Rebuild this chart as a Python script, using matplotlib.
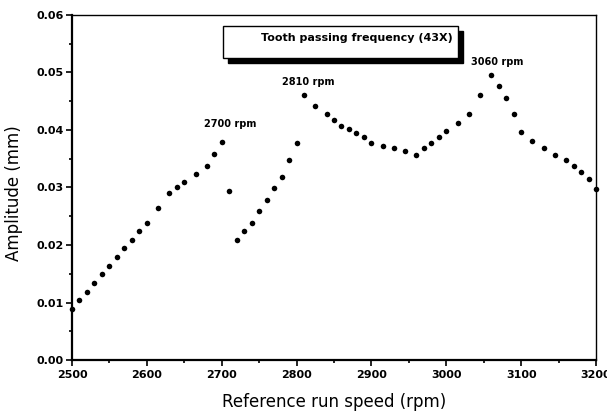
import numpy as np
import matplotlib
matplotlib.use('Agg')
import matplotlib.pyplot as plt
from matplotlib.patches import Rectangle
from matplotlib.ticker import MultipleLocator, FormatStrFormatter

plt.rcParams['font.family'] = ['DejaVu Sans']

# reference run speed (rpm) and amplitude (mm)
rpm = [2500, 2510, 2520, 2530, 2540, 2550, 2560, 2570, 2580, 2590,
       2600, 2615, 2630, 2640, 2650, 2665, 2680, 2690, 2700, 2710,
       2720, 2730, 2740, 2750, 2760, 2770, 2780, 2790, 2800,
       2810, 2825, 2840, 2850, 2860, 2870, 2880, 2890, 2900, 2915,
       2930, 2945, 2960, 2970, 2980, 2990, 3000, 3015, 3030, 3045,
       3060, 3070, 3080, 3090, 3100, 3115, 3130, 3145, 3160, 3170,
       3180, 3190, 3200]
amp = [0.0089, 0.0105, 0.0119, 0.0134, 0.0149, 0.0164, 0.0179, 0.0195, 0.0209, 0.0224,
       0.0239, 0.0264, 0.0290, 0.0300, 0.0310, 0.0324, 0.0338, 0.0359, 0.0379, 0.0294,
       0.0209, 0.0224, 0.0239, 0.0259, 0.0279, 0.0299, 0.0318, 0.0348, 0.0377,
       0.0460, 0.0442, 0.0427, 0.0417, 0.0407, 0.0401, 0.0394, 0.0387, 0.0377, 0.0373,
       0.0369, 0.0364, 0.0357, 0.0368, 0.0377, 0.0387, 0.0398, 0.0412, 0.0427, 0.0461,
       0.0496, 0.0477, 0.0456, 0.0427, 0.0397, 0.0381, 0.0368, 0.0357, 0.0347, 0.0337,
       0.0327, 0.0314, 0.0298]

peaks = [2700, 2810, 3060]
peak_labels = ['2700 rpm', '2810 rpm', '3060 rpm']
peak_offsets = [(6, 13), (3, 9.5), (4.5, 9.5)]

legend_text = 'Tooth passing frequency (43X)'

fig = plt.figure(figsize=(6.07, 4.15), dpi=100)
ax = fig.add_axes([0.1186, 0.1325, 0.8633, 0.8314])

ax.plot(rpm, amp, 'o', color='black', markersize=4, markeredgewidth=0, clip_on=False)

for p, lab, off in zip(peaks, peak_labels, peak_offsets):
    a = amp[rpm.index(p)]
    ax.annotate(lab, xy=(p, a), xytext=off, textcoords='offset points',
                ha='center', va='center', fontsize=7, fontweight='bold')

ax.set_xlim(2500, 3200)
ax.set_ylim(0, 0.06)
ax.xaxis.set_major_locator(MultipleLocator(100))
ax.xaxis.set_minor_locator(MultipleLocator(50))
ax.yaxis.set_major_locator(MultipleLocator(0.01))
ax.yaxis.set_minor_locator(MultipleLocator(0.005))
ax.yaxis.set_major_formatter(FormatStrFormatter('%.2f'))
ax.tick_params(which='both', direction='out', top=False, right=False,
               labelsize=8, width=1.2)
ax.tick_params(which='major', length=4, pad=2)
ax.tick_params(axis='x', which='major', pad=3)
ax.tick_params(which='minor', length=2.5)
for t in ax.get_xticklabels() + ax.get_yticklabels():
    t.set_fontweight('bold')

ax.spines['left'].set_linewidth(1.6)
ax.spines['bottom'].set_linewidth(1.6)
ax.spines['top'].set_linewidth(1.0)
ax.spines['right'].set_linewidth(1.0)

ax.set_xlabel('Reference run speed (rpm)', fontsize=12)
ax.set_ylabel('Amplitude (mm)', fontsize=12)
ax.xaxis.set_label_coords(0.5, -0.096)
ax.yaxis.set_label_coords(-0.094, 0.483)

# legend box with a solid black shadow
ax.add_patch(Rectangle((0.297, 0.861), 0.449, 0.093, transform=ax.transAxes,
                       facecolor='black', edgecolor='black', zorder=4))
ax.add_patch(Rectangle((0.288, 0.875), 0.449, 0.093, transform=ax.transAxes,
                       facecolor='white', edgecolor='black', linewidth=1.0, zorder=5))
ax.text(0.543, 0.933, legend_text, transform=ax.transAxes, ha='center', va='center',
        fontsize=8, fontweight='bold', zorder=6)

fig.savefig('out.png', dpi=100)
